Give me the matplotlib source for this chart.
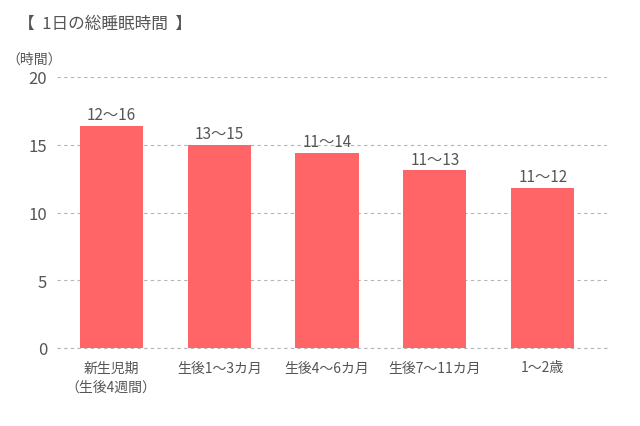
import matplotlib
matplotlib.use("Agg")
import matplotlib.pyplot as plt

plt.rcParams['font.family'] = ['Noto Sans CJK JP', 'DejaVu Sans']

categories = ["新生児期\n（生後4週間）", "生後1～3カ月", "生後4～6カ月", "生後7～11カ月", "1～2歳"]
hours = [16.4, 15.0, 14.4, 13.1, 11.8]
range_labels = ["12～16", "13～15", "11～14", "11～13", "11～12"]
yticks = [0, 5, 10, 15, 20]

text_color = "#555555"
bar_color = "#ff6467"

fig = plt.figure(figsize=(6.4, 4.27), dpi=100)
ax = fig.add_axes([57 / 640, 1 - 349 / 427, 550 / 640, 271 / 427])

x = list(range(len(categories)))
bars = ax.bar(x, hours, width=0.585, color=bar_color, zorder=2)

for rect, lab in zip(bars, range_labels):
    ax.annotate(lab, (rect.get_x() + rect.get_width() / 2, rect.get_height()),
                xytext=(0, 2), textcoords="offset points", ha="center", va="bottom",
                fontsize=11, color=text_color)

ax.set_xlim(-0.503, 4.595)
ax.set_ylim(0, 20)
ax.set_yticks(yticks)
ax.set_yticklabels([str(v) for v in yticks])
ax.set_xticks(x)
ax.set_xticklabels(categories, linespacing=1.45)
ax.yaxis.grid(True, linestyle=(0, (3, 3)), color="#b5b5b5", linewidth=0.8, zorder=0)
ax.set_axisbelow(True)
for s in ax.spines.values():
    s.set_visible(False)
ax.tick_params(axis="both", length=0, colors=text_color)
ax.tick_params(axis="y", pad=7, labelsize=12)
ax.tick_params(axis="x", pad=9, labelsize=10)
ax.axhline(0, linestyle=(0, (3, 3)), color="#b5b5b5", linewidth=0.8, zorder=1, clip_on=False)

fig.text(18 / 640, 1 - 24 / 427, "【  1日の総睡眠時間  】", fontsize=12, color=text_color,
         ha="left", va="center")
fig.text(6 / 640, 1 - 60 / 427, "（時間）", fontsize=10, color=text_color, ha="left", va="center")

fig.savefig("out.png", dpi=100, facecolor="white")
